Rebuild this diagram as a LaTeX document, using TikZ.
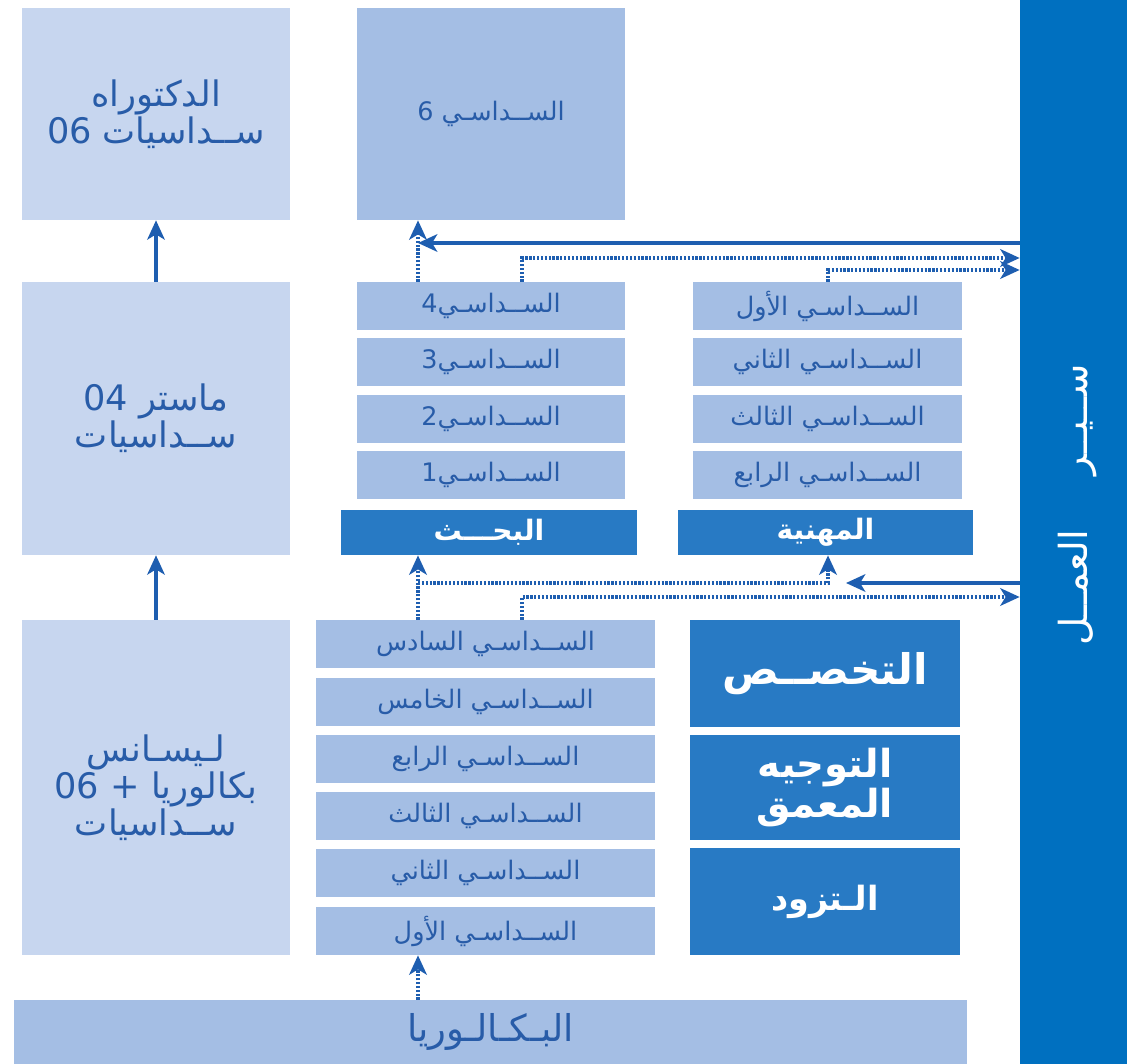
\documentclass[tikz,border=0pt]{standalone}
\usepackage{fontspec}
\newfontfamily\arabicfont[Script=Arabic]{DejaVu Sans}
\TeXXeTstate=1
\usetikzlibrary{arrows.meta}
\definecolor{azulClaro}{RGB}{199,214,239}
\definecolor{azulMedio}{RGB}{164,190,228}
\definecolor{azulEscuro}{RGB}{40,122,196}
\definecolor{azulBarra}{RGB}{0,112,192}
\definecolor{azulTexto}{RGB}{40,92,168}
\definecolor{azulSeta}{RGB}{30,94,176}
\newcommand{\artxt}[1]{\beginR #1\endR}
\tikzset{
  caixa/.style={
    inner sep=0pt, align=center, text centered
  },
  caixaClara/.style={caixa, fill=azulClaro, text=azulTexto, minimum width=5.36cm,
    font=\arabicfont\fontsize{20}{21}\selectfont},
  caixaMedia/.style={caixa, fill=azulMedio, text=azulTexto, minimum height=0.96cm,
    font=\arabicfont\fontsize{14.5}{16}\selectfont},
  caixaEscura/.style={caixa, fill=azulEscuro, text=white,
    font=\arabicfont\bfseries\fontsize{16}{18}\selectfont},
  seta/.style={-{Stealth[length=11pt, width=10pt, inset=3pt]}, line width=1.8pt, azulSeta},
  setaPont/.style={seta, dash pattern=on 1.3pt off 0.9pt, line width=2.2pt},
}

\begin{document}
\begin{tikzpicture}[x=0.02cm, y=-0.02cm]

\useasboundingbox (0,0) rectangle (1127,1064);

\node[caixaClara, minimum height=4.24cm] (doct) at (156,114)
{
    \artxt{الدكتوراه}\\
    \artxt{ســداسيات \beginL06\endL}
};

\node[caixaClara, minimum height=5.46cm] (mast) at (156,418.5)
{
    \artxt{ماستر \beginL04\endL}\\
    \artxt{ســداسيات}
};

\node[caixaClara, minimum height=6.7cm] (lic) at (156,787.5)
{
    \artxt{لـيسـانس}\\
    \artxt{بكالوريا + \beginL06\endL}\\
    \artxt{ســداسيات}
};

\node[caixaMedia, minimum width=5.36cm, minimum height=4.24cm] (s6) at (491,114)
{\artxt{الســداسـي 6}};

\node[caixaMedia, minimum width=5.36cm] (r4) at (491,306) {\artxt{الســداسـي4}};
\node[caixaMedia, minimum width=5.36cm] (r3) at (491,362) {\artxt{الســداسـي3}};
\node[caixaMedia, minimum width=5.36cm] (r2) at (491,419) {\artxt{الســداسـي2}};
\node[caixaMedia, minimum width=5.36cm] (r1) at (491,475) {\artxt{الســداسـي1}};

\node[caixaMedia, minimum width=5.38cm] (p1) at (827.5,306) {\artxt{الســداسـي الأول}};
\node[caixaMedia, minimum width=5.38cm] (p2) at (827.5,362) {\artxt{الســداسـي الثاني}};
\node[caixaMedia, minimum width=5.38cm] (p3) at (827.5,419) {\artxt{الســداسـي الثالث}};
\node[caixaMedia, minimum width=5.38cm] (p4) at (827.5,475) {\artxt{الســداسـي الرابع}};

\node[caixaEscura, minimum width=5.92cm, minimum height=0.9cm] (bahth) at (489,532.5)
{\artxt{البحـــث}};

\node[caixaEscura, minimum width=5.9cm, minimum height=0.9cm] (mihan) at (825.5,532.5)
{\artxt{المهنية}};

\node[caixaMedia, minimum width=6.78cm] (ls6) at (485.5,644) {\artxt{الســداسـي السادس}};
\node[caixaMedia, minimum width=6.78cm] (ls5) at (485.5,702) {\artxt{الســداسـي الخامس}};
\node[caixaMedia, minimum width=6.78cm] (ls4) at (485.5,759) {\artxt{الســداسـي الرابع}};
\node[caixaMedia, minimum width=6.78cm] (ls3) at (485.5,816) {\artxt{الســداسـي الثالث}};
\node[caixaMedia, minimum width=6.78cm] (ls2) at (485.5,873) {\artxt{الســداسـي الثاني}};
\node[caixaMedia, minimum width=6.78cm] (ls1) at (485.5,931) {\artxt{الســداسـي الأول}};

\node[caixaEscura, minimum width=5.4cm, minimum height=2.14cm,
      font=\arabicfont\bfseries\fontsize{24}{24}\selectfont] (takh) at (825,673.5)
{\artxt{التخصــص}};

\node[caixaEscura, minimum width=5.4cm, minimum height=2.1cm,
      font=\arabicfont\bfseries\fontsize{22}{19}\selectfont] (tawj) at (825,787.5)
{
    \artxt{التوجيه}\\
    \artxt{المعمق}
};

\node[caixaEscura, minimum width=5.4cm, minimum height=2.14cm,
      font=\arabicfont\bfseries\fontsize{19}{19}\selectfont] (tazw) at (825,901.5)
{\artxt{الـتزود}};

\node[caixaMedia, minimum width=19.06cm, minimum height=1.28cm,
      font=\arabicfont\fontsize{21}{22}\selectfont] (bac) at (490.5,1032)
{\artxt{البـكـالـوريا}};

\node[caixa, fill=azulBarra, text=white, minimum width=2.14cm, minimum height=21.28cm] (barra) at (1073.5,532) {};
\node[text=white, rotate=90, font=\arabicfont\fontsize{22}{22}\selectfont] (fluxo) at (1078,505)
{\artxt{ســيــر\hspace{1.1cm}العمــل}};

\coordinate (eixoA) at (418,0);
\coordinate (eixoB) at (522,0);
\coordinate (eixoC) at (828,0);
\coordinate (eixoD) at (846,0);
\coordinate (nivel1) at (0,243);
\coordinate (nivel2) at (0,258);
\coordinate (nivel3) at (0,270);
\coordinate (nivel4) at (0,583);
\coordinate (nivel5) at (0,597);

\draw[seta] (mast.north) -- (doct.south);
\draw[seta] (lic.north) -- (mast.south);

\draw[setaPont] (eixoA |- r4.north) -- (eixoA |- s6.south);
\draw[seta] (barra.west |- nivel1) -- (eixoA |- nivel1);
\draw[setaPont] (eixoB |- r4.north) |- (barra.west |- nivel2);
\draw[setaPont] (eixoC |- p1.north) |- (barra.west |- nivel3);

\draw[setaPont] (eixoA |- ls6.north) -- (eixoA |- bahth.south);
\draw[setaPont] (eixoA |- nivel4) -| (eixoC |- mihan.south);
\draw[seta] (barra.west |- nivel4) -- (eixoD |- nivel4);
\draw[setaPont] (eixoB |- ls6.north) |- (barra.west |- nivel5);

\draw[setaPont] (eixoA |- bac.north) -- (eixoA |- ls1.south);

\end{tikzpicture}
\end{document}
